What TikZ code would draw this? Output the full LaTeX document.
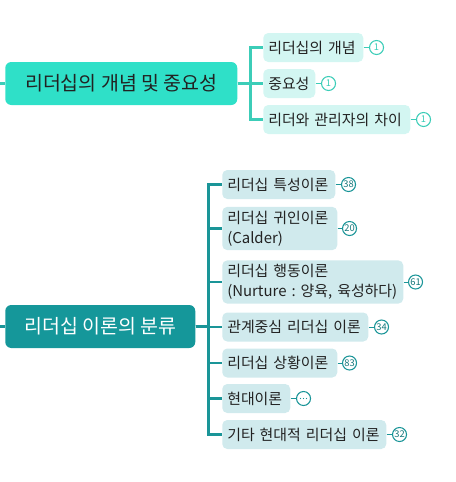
\documentclass[tikz,border=0pt]{standalone}
\usepackage{fontspec}
\setmainfont{Noto Sans CJK KR}
\frenchspacing
\definecolor{topmain}{HTML}{2FE0C8}
\definecolor{topline}{HTML}{3CCDB8}
\definecolor{topchild}{HTML}{D3F6F2}
\definecolor{botmain}{HTML}{15979A}
\definecolor{botline}{HTML}{1A9598}
\definecolor{botchild}{HTML}{D0EAED}
\definecolor{txt}{HTML}{222222}
\begin{document}
\begin{tikzpicture}[x=0.75pt,y=-0.75pt,
  mainbox/.style={rounded corners=6*0.75pt, minimum height=43*0.75pt, inner xsep=0pt, anchor=west, font=\fontsize{14.6}{17}\selectfont},
  childbox/.style={rounded corners=5*0.75pt, minimum height=29*0.75pt, inner xsep=5*0.75pt, inner ysep=4*0.75pt, anchor=west, align=left, text=txt, font=\fontsize{11.2}{15}\selectfont},
  topc/.style={childbox, fill=topchild},
  botc/.style={childbox, fill=botchild},
  badge/.style={circle, draw, fill=white, line width=0.8pt, minimum size=14*0.75pt, inner sep=0pt, font=\fontsize{7}{8}\selectfont},
  topb/.style={badge, draw=topline, text=topline},
  botb/.style={badge, draw=botline, text=botline!80!black},
  topl/.style={draw=topline, line width=2.2*0.75pt},
  botl/.style={draw=botline, line width=2.2*0.75pt},
  stubt/.style={draw=topline, line width=0.6pt},
  stubb/.style={draw=botline, line width=0.6pt}]
\useasboundingbox (0,0) rectangle (456,482);

% ---- top group ----
\coordinate (ltop) at (0,83.5);
\node[mainbox, fill=topmain, text=txt, minimum width=232*0.75pt] (m1) at (5,83.5) {리더십의 개념 및 중요성};
\node[topc, text width=90*0.75pt] (t1) at (263,47.5) {리더십의 개념};
\node[topc, text width=42*0.75pt] (t2) at (263,83.5) {중요성};
\node[topc, text width=137*0.75pt] (t3) at (263,119.5) {리더와 관리자의 차이};
\draw[topl] (ltop) -- (m1.west);
\foreach \c in {t1,t2,t3} \draw[topl] (m1.east) -- ++(13,0) |- (\c.west);
\node[topb] (bt1) at ([xshift=13*0.75pt]t1.east) {1};
\node[topb] (bt2) at ([xshift=13*0.75pt]t2.east) {1};
\node[topb] (bt3) at ([xshift=13*0.75pt]t3.east) {1};
\draw[stubt] (t1.east) -- (bt1.west);
\draw[stubt] (t2.east) -- (bt2.west);
\draw[stubt] (t3.east) -- (bt3.west);

% ---- bottom group ----
\coordinate (lbot) at (0,326.5);
\node[mainbox, fill=botmain, text=white, minimum width=190*0.75pt] (m2) at (5,326.5) {리더십 이론의 분류};
\node[botc, text width=103*0.75pt] (c1) at (222,184.5) {리더십 특성이론};
\node[botc, text width=105*0.75pt] (c2) at (222,228.5) {리더십 귀인이론\\(Calder)};
\node[botc, text width=171*0.75pt] (c3) at (222,282) {리더십 행동이론\\(Nurture : 양육, 육성하다)};
\node[botc, text width=136*0.75pt] (c4) at (222,327) {관계중심 리더십 이론};
\node[botc, text width=105*0.75pt] (c5) at (222,363) {리더십 상황이론};
\node[botc, text width=58*0.75pt] (c6) at (222,398.5) {현대이론};
\node[botc, text width=154*0.75pt] (c7) at (222,434.5) {기타 현대적 리더십 이론};
\draw[botl] (lbot) -- (m2.west);
\foreach \c in {c1,c2,c3,c4,c5,c6,c7} \draw[botl] (m2.east) -- ++(13,0) |- (\c.west);
\node[botb] (bc1) at ([xshift=13*0.75pt]c1.east) {38};
\node[botb] (bc2) at ([xshift=12*0.75pt]c2.east) {20};
\node[botb] (bc3) at ([xshift=12*0.75pt]c3.east) {61};
\node[botb] (bc4) at ([xshift=13*0.75pt]c4.east) {34};
\node[botb] (bc5) at ([xshift=12*0.75pt]c5.east) {83};
\node[botb] (bc6) at ([xshift=13*0.75pt]c6.east) {};
\foreach \dx in {-3,0,3} \fill[botline] ([xshift=\dx*0.75pt]bc6.center) circle (0.45pt);
\node[botb] (bc7) at ([xshift=13*0.75pt]c7.east) {32};
\foreach \i in {1,...,7} \draw[stubb] (c\i.east) -- (bc\i.west);
\end{tikzpicture}
\end{document}
